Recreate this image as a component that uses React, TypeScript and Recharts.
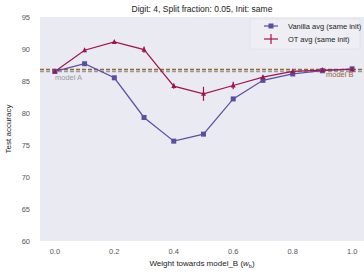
import React from "react";
import {
  ComposedChart,
  Line,
  XAxis,
  YAxis,
  CartesianGrid,
  ReferenceLine,
  ErrorBar,
} from "recharts";

const weights = [0, 0.1, 0.2, 0.3, 0.4, 0.5, 0.6, 0.7, 0.8, 0.9, 1.0];
const vanillaAvg = [86.5, 87.7, 85.5, 79.3, 75.6, 76.7, 82.2, 85.1, 86.1, 86.6, 86.9];
const otAvg = [86.5, 89.8, 91.1, 89.9, 84.2, 83.0, 84.3, 85.6, 86.5, 86.7, 86.8];
const otErr = [0.1, 0.3, 0.2, 0.5, 0.4, 1.1, 0.6, 0.3, 0.2, 0.1, 0.1];
const modelA = 86.5;
const modelB = 86.8;
const xTicks = [0, 0.2, 0.4, 0.6, 0.8, 1.0];
const yTicks = [60, 65, 70, 75, 80, 85, 90, 95];

const PURPLE = "#5b4ea3";
const CRIMSON = "#a3134d";
const GREY = "#9a9a9a";
const BROWN = "#8f6a30";
const FONT = "'Liberation Sans', Arial, sans-serif";

const data = weights.map((w, i) => ({
  w,
  vanilla: vanillaAvg[i],
  ot: otAvg[i],
  otErr: otErr[i],
}));

const Square = (props: any) => {
  const { cx, cy } = props;
  return <rect x={cx - 2.5} y={cy - 2.5} width={5} height={5} fill={PURPLE} />;
};

const Star = (props: any) => {
  const { cx, cy } = props;
  return (
    <polygon
      points={`${cx},${cy - 3} ${cx + 2.5},${cy + 2} ${cx - 2.5},${cy + 2}`}
      fill={CRIMSON}
    />
  );
};

const RefLabel = ({ viewBox, text, color, dx, dy }: any) => (
  <text
    x={viewBox.x + dx}
    y={viewBox.y + dy}
    fill={color}
    fontSize={7.5}
    fontFamily={FONT}
  >
    {text}
  </text>
);

export default function App() {
  return (
    <div style={{ position: "absolute", left: 0, top: 0, width: 364, height: 276, background: "#fff" }}>
      <ComposedChart
        width={364}
        height={276}
        data={data}
        margin={{ top: 17, right: 0, bottom: 0, left: 0 }}
      >
        <rect x={40} y={17} width={324} height={224} fill="#eaeaf2" />
        <CartesianGrid stroke="#ffffff" strokeWidth={1.2} fill="#eaeaf2" />
        <XAxis
          dataKey="w"
          type="number"
          domain={[-0.05, 1.04]}
          ticks={xTicks}
          tickFormatter={(v) => v.toFixed(1)}
          axisLine={false}
          tickLine={false}
          height={35}
          tick={{ fontSize: 7.5, fill: "#555", fontFamily: FONT }}
          tickMargin={2}
        />
        <YAxis
          type="number"
          domain={[60, 95]}
          ticks={yTicks}
          axisLine={false}
          tickLine={false}
          width={40}
          tick={{ fontSize: 7.5, fill: "#555", fontFamily: FONT }}
          tickMargin={4}
          label={{
            value: "Test accuracy",
            angle: -90,
            position: "insideLeft",
            offset: 8,
            style: { textAnchor: "middle" },
            fontSize: 8,
            fill: "#222",
            fontFamily: FONT,
          }}
        />
        <ReferenceLine
          y={modelA}
          stroke={GREY}
          strokeWidth={1.5}
          strokeDasharray="4 2"
          label={<RefLabel text="model A" color={GREY} dx={15} dy={9} />}
        />
        <ReferenceLine
          y={modelB}
          stroke={BROWN}
          strokeWidth={1.5}
          strokeDasharray="4 2"
          label={<RefLabel text="model B" color={BROWN} dx={286} dy={8} />}
        />
        <Line
          dataKey="vanilla"
          stroke={PURPLE}
          strokeWidth={1.2}
          dot={<Square />}
          activeDot={false}
          isAnimationActive={false}
        />
        <Line
          dataKey="ot"
          stroke={CRIMSON}
          strokeWidth={1.2}
          dot={<Star />}
          activeDot={false}
          isAnimationActive={false}
        >
          <ErrorBar dataKey="otErr" width={0} stroke={CRIMSON} strokeWidth={1.2} direction="y" />
        </Line>
        <text x={202} y={12} textAnchor="middle" fontSize={8.5} fill="#222" fontFamily={FONT}>
          Digit: 4, Split fraction: 0.05, Init: same
        </text>
        <text x={202} y={266} textAnchor="middle" fontSize={8} fill="#222" fontFamily={FONT}>
          Weight towards model_B (<tspan fontStyle="italic">w</tspan>
          <tspan fontSize={5.5} dy={2}>b</tspan>
          <tspan dy={-2}>)</tspan>
        </text>
        <g fontFamily={FONT} fontSize={7.5} fill="#222">
          <rect x={250} y={19} width={110} height={30} fill="#eeeef4" stroke="#e0e0ea" strokeWidth={0.8} rx={2} />
          <line x1={264} y1={26} x2={278} y2={26} stroke={PURPLE} strokeWidth={1.2} />
          <rect x={268.5} y={23.5} width={5} height={5} fill={PURPLE} />
          <text x={288} y={29}>Vanilla avg (same init)</text>
          <line x1={264} y1={39} x2={278} y2={39} stroke={CRIMSON} strokeWidth={1.2} />
          <line x1={271} y1={34} x2={271} y2={44} stroke={CRIMSON} strokeWidth={1.2} />
          <text x={288} y={42}>OT avg (same init)</text>
        </g>
      </ComposedChart>
    </div>
  );
}
